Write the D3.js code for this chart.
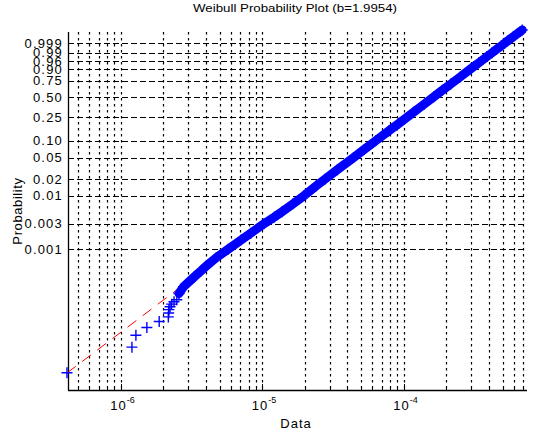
<!DOCTYPE html>
<html>
<head>
<meta charset="utf-8">
<script src="https://cdn.jsdelivr.net/npm/d3@7/dist/d3.min.js"></script>
<style>
body { margin: 0; background: #fff; }
text { font-family: "Liberation Sans", Arial, Helvetica, sans-serif; fill: #000; }
</style>
</head>
<body>
<script>
const width = 533, height = 432;

// weibull probability axis ticks
const yTicks = [0.001, 0.003, 0.01, 0.02, 0.05, 0.10, 0.25, 0.50, 0.75, 0.90, 0.96, 0.99, 0.999];
const yTickLabels = ["0.001", "0.003", "0.01", "0.02", "0.05", "0.10", "0.25", "0.50", "0.75", "0.90", "0.96", "0.99", "0.999"];
const xDecades = [1e-6, 1e-5, 1e-4];
const xDecadeExp = ["-6", "-5", "-4"];

// lowest ranked samples, seen one by one
const tailProb = [5e-6, 1.5e-5, 2.5e-5, 3.5e-5, 4.5e-5, 5.5e-5, 6.5e-5, 7.5e-5, 8.5e-5, 9.5e-5, 1.05e-4, 1.15e-4];
const tailData = [4.17e-7, 1.20e-6, 1.28e-6, 1.53e-6, 1.87e-6, 2.17e-6, 2.18e-6, 2.19e-6, 2.23e-6, 2.29e-6, 2.38e-6, 2.49e-6];

// sample quantiles along the dense band
const bandProb = [1.5e-4, 2e-4, 3e-4, 4e-4, 5e-4, 7e-4, 0.001, 0.0015, 0.002, 0.003, 0.004, 0.005, 0.007,
  0.01, 0.015, 0.02, 0.03, 0.05, 0.07, 0.1, 0.15, 0.2, 0.3, 0.4, 0.5, 0.6, 0.7, 0.8, 0.9, 0.95, 0.98,
  0.99, 0.995, 0.998, 0.999, 0.9995, 0.9999, 0.99999, 0.999995];
const bandData = [2.58e-6, 2.78e-6, 3.28e-6, 3.71e-6, 4.06e-6, 4.74e-6, 5.74e-6, 7.11e-6, 8.30e-6, 1.03e-5,
  1.22e-5, 1.38e-5, 1.65e-5, 1.98e-5, 2.40e-5, 2.77e-5, 3.40e-5, 4.42e-5, 5.26e-5, 6.34e-5, 7.88e-5,
  9.25e-5, 1.17e-4, 1.40e-4, 1.63e-4, 1.87e-4, 2.15e-4, 2.49e-4, 2.97e-4, 3.40e-4, 3.88e-4, 4.21e-4,
  4.52e-4, 4.90e-4, 5.16e-4, 5.41e-4, 5.96e-4, 6.67e-4, 6.87e-4];

// fitted weibull reference line
const fitScale = 1.9e-4, fitShape = 1.9954;
const fitRange = [4.17e-7, 6.87e-4];

const plotL = 68, plotR = 527, plotT = 32, plotB = 390;

let wbl = (p) => Math.log10(-Math.log(1 - p));

let x = d3.scaleLog().domain([4.24e-7, 7.43e-4]).range([plotL, plotR]);
let y = d3.scaleLinear().domain([-5.622, 1.0496]).range([plotB, plotT]);

const svg = d3.select("body")
  .append("svg")
  .attr("width", width)
  .attr("height", height);

// vertical grid (every minor tick)
let xTicks = x.ticks();
svg.append("g")
  .selectAll("line")
  .data(xTicks)
  .enter()
  .append("line")
  .attr("x1", (d) => Math.round(x(d)) + 0.5)
  .attr("x2", (d) => Math.round(x(d)) + 0.5)
  .attr("y1", plotT)
  .attr("y2", plotB)
  .attr("stroke", "#000")
  .attr("stroke-width", 1.2)
  .attr("stroke-dasharray", "2.5,3.5");

// horizontal grid
svg.append("g")
  .selectAll("line")
  .data(yTicks)
  .enter()
  .append("line")
  .attr("x1", plotL)
  .attr("x2", plotR)
  .attr("y1", (d) => Math.round(y(wbl(d))) + 0.5)
  .attr("y2", (d) => Math.round(y(wbl(d))) + 0.5)
  .attr("stroke", "#000")
  .attr("stroke-width", 1)
  .attr("stroke-dasharray", "6,3");

// axes lines
svg.append("line")
  .attr("x1", plotL + 0.5).attr("x2", plotL + 0.5)
  .attr("y1", plotT).attr("y2", plotB)
  .attr("stroke", "#000")
  .attr("stroke-width", 1.3);
svg.append("line")
  .attr("x1", plotL).attr("x2", plotR)
  .attr("y1", plotB + 0.5).attr("y2", plotB + 0.5)
  .attr("stroke", "#000")
  .attr("stroke-width", 1.3);

// x tick marks
svg.append("g")
  .selectAll("line")
  .data(xTicks)
  .enter()
  .append("line")
  .attr("x1", (d) => Math.round(x(d)) + 0.5)
  .attr("x2", (d) => Math.round(x(d)) + 0.5)
  .attr("y1", plotB)
  .attr("y2", (d) => xDecades.includes(d) ? plotB - 6 : plotB - 3)
  .attr("stroke", "#000");

// y tick marks
svg.append("g")
  .selectAll("line")
  .data(yTicks)
  .enter()
  .append("line")
  .attr("x1", plotL)
  .attr("x2", plotL + 5)
  .attr("y1", (d) => Math.round(y(wbl(d))) + 0.5)
  .attr("y2", (d) => Math.round(y(wbl(d))) + 0.5)
  .attr("stroke", "#000");

// y tick labels
svg.append("g")
  .selectAll("text")
  .data(yTicks)
  .enter()
  .append("text")
  .attr("x", 63)
  .attr("y", (d) => y(wbl(d)))
  .attr("dy", "0.36em")
  .style("text-anchor", "end")
  .style("font-size", "13px")
  .style("letter-spacing", "1.2px")
  .text((d, i) => yTickLabels[i]);

// x tick labels 10^n
let xLab = svg.append("g")
  .selectAll("g")
  .data(xDecades)
  .enter()
  .append("g");
xLab.append("text")
  .attr("x", (d) => x(d) + 6)
  .attr("y", 409.5)
  .style("text-anchor", "end")
  .style("font-size", "13px")
  .style("letter-spacing", "1px")
  .text("10");
xLab.append("text")
  .attr("x", (d) => x(d) + 6)
  .attr("y", 403)
  .style("font-size", "9px")
  .text((d, i) => xDecadeExp[i]);

// reference line
let fitLine = d3.line()
  .x((d) => x(d))
  .y((d) => y(fitShape * Math.log10(d / fitScale)));
svg.append("path")
  .attr("d", fitLine(fitRange))
  .attr("fill", "none")
  .attr("stroke", "#ff0000")
  .attr("stroke-width", 1)
  .attr("stroke-dasharray", "11,8");

// dense band of samples
let bandPts = bandData.map((v, i) => [v, bandProb[i]]);
let tailPts = tailData.map((v, i) => [v, tailProb[i]]);
let bandLine = d3.line()
  .x((d) => x(d[0]))
  .y((d) => y(wbl(d[1])));
svg.append("path")
  .attr("d", bandLine(bandPts))
  .attr("fill", "none")
  .attr("stroke", "#0000ff")
  .attr("stroke-width", 9)
  .attr("stroke-linecap", "round")
  .attr("stroke-linejoin", "round");

svg.append("g")
  .selectAll("path")
  .data(tailPts.concat(bandPts))
  .enter()
  .append("path")
  .attr("transform", (d) => `translate(${x(d[0])},${y(wbl(d[1]))})`)
  .attr("d", "M-5.5,0H5.5M0,-5.5V5.5")
  .attr("stroke", "#0000ff")
  .attr("stroke-width", 1.4)
  .attr("fill", "none");

// titles
svg.append("text")
  .attr("x", 295)
  .attr("y", 12)
  .style("text-anchor", "middle")
  .style("font-size", "11px")
  .attr("textLength", 204)
  .attr("lengthAdjust", "spacingAndGlyphs")
  .text("Weibull Probability Plot (b=1.9954)");

svg.append("text")
  .attr("x", 296)
  .attr("y", 428)
  .style("text-anchor", "middle")
  .style("font-size", "13px")
  .style("letter-spacing", "1px")
  .text("Data");

svg.append("text")
  .attr("transform", "translate(22,211) rotate(-90)")
  .style("text-anchor", "middle")
  .style("font-size", "13px")
  .style("letter-spacing", "0.6px")
  .text("Probability");
</script>
</body>
</html>
